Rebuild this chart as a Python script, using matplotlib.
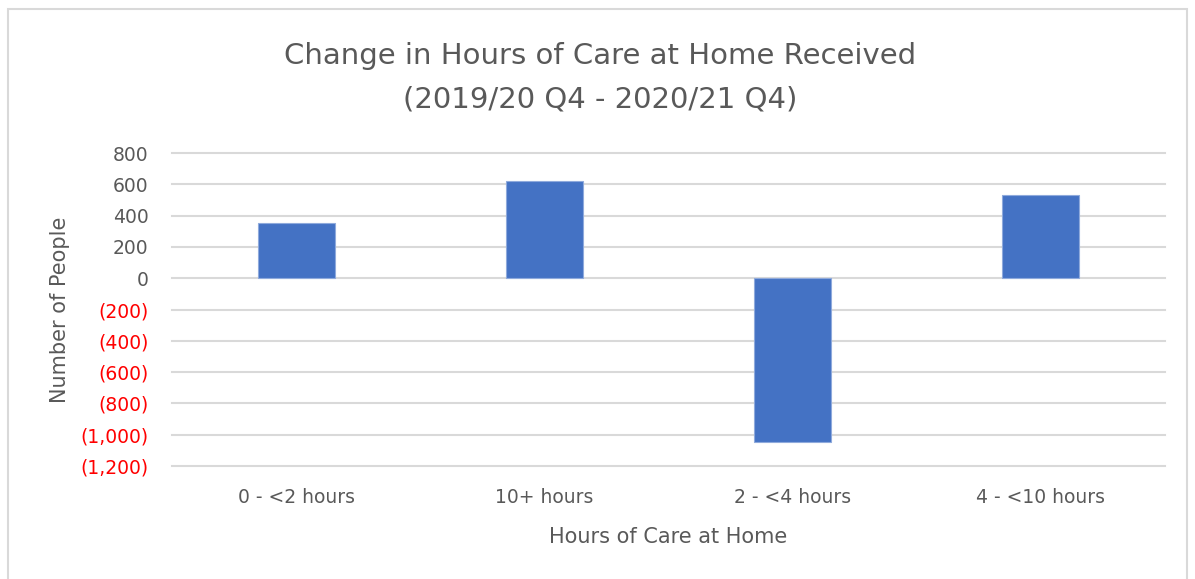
import matplotlib.pyplot as plt
from matplotlib.patches import Rectangle
from matplotlib.ticker import FuncFormatter

categories = ["0 - <2 hours", "10+ hours", "2 - <4 hours", "4 - <10 hours"]
changes = [352, 621, -1045, 531]
y_ticks = [800, 600, 400, 200, 0, -200, -400, -600, -800, -1000, -1200]

title = "Change in Hours of Care at Home Received\n(2019/20 Q4 - 2020/21 Q4)"
x_label = "Hours of Care at Home"
y_label = "Number of People"

grey_text = "#595959"

fig = plt.figure(figsize=(11.95, 5.79), dpi=100)
# chart frame
fig.patches.append(Rectangle((8 / 1195, -0.05), 1179 / 1195, 1.05 - 9 / 579,
                             transform=fig.transFigure, fill=False,
                             edgecolor="#d9d9d9", linewidth=1.5))

ax = fig.add_axes([172 / 1195, 1 - 466 / 579, 993 / 1195, 313 / 579])
ax.bar(range(len(categories)), changes, width=0.31, color="#4472C4",
       edgecolor="#8FAADC", linewidth=0.8, zorder=3)

ax.set_xlim(-0.5, len(categories) - 0.5)
ax.set_ylim(-1200, 800)
ax.set_yticks(y_ticks)
ax.yaxis.set_major_formatter(FuncFormatter(
    lambda v, p: "({:,.0f})".format(-v) if v < 0 else "{:,.0f}".format(v)))
ax.set_xticks(range(len(categories)))
ax.set_xticklabels(categories)
ax.grid(axis="y", color="#d9d9d9", linewidth=1.5, zorder=0)
for gl in ax.get_ygridlines():
    gl.set_clip_on(False)
for s in ax.spines.values():
    s.set_visible(False)
ax.tick_params(length=0, labelsize=13.5, labelcolor=grey_text)
ax.tick_params(axis="x", pad=16)
ax.tick_params(axis="y", pad=17)
for lbl in ax.get_yticklabels():
    if lbl.get_text().startswith("("):
        lbl.set_color("red")

ax.set_xlabel(x_label, fontsize=15, color=grey_text, labelpad=14)
ax.set_ylabel(y_label, fontsize=15, color=grey_text)
ax.yaxis.set_label_coords(-0.103, 0.5)

fig.text(600 / 1195, 1 - 78 / 579, title, ha="center", va="center",
         fontsize=21, color=grey_text, linespacing=1.7)

fig.savefig("out.png", dpi=100)
